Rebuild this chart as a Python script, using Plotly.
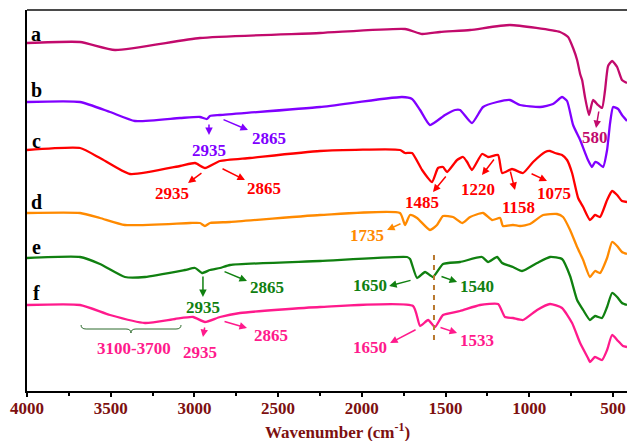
import plotly.graph_objects as go

SERIF = "Liberation Serif, Times New Roman, serif"
AXIS_RED = "#7d1010"

# ---- FTIR spectra (wavenumber in cm-1, stacked transmittance in a.u.) ----
wn_a = [4000, 3683, 3474, 2967, 2250, 1742, 1640, 1533, 1353, 1115, 816, 768, 738,
        714, 696, 684, 667, 643, 619, 589, 565, 547, 529, 505, 475, 446, 416]
t_a = [348, 349, 341, 353, 358, 362, 357, 359, 361, 366, 359, 354, 343,
       331, 317, 311, 294, 276, 291, 286, 283, 301, 325, 330, 324, 311, 308]

wn_b = [4000, 3683, 3504, 3355, 3086, 2967, 2925, 2907, 2847, 2250, 1760, 1700, 1652,
        1593, 1503, 1443, 1413, 1342, 1276, 1192, 1115, 1055, 935, 858, 804, 774,
        738, 696, 649, 625, 607, 589, 559, 535, 517, 499, 469, 446, 416]
t_b = [289, 289, 279, 270, 273, 274, 272, 275, 276, 284, 294, 292, 281,
       266, 276, 281, 281, 268, 284, 289, 291, 286, 284, 287, 294, 290,
       266, 251, 231, 224, 229, 228, 224, 241, 268, 284, 282, 276, 270]

wn_c = [4000, 3683, 3564, 3385, 3086, 2996, 2937, 2847, 2668, 2250, 1772, 1742, 1700,
        1640, 1581, 1545, 1515, 1491, 1431, 1395, 1371, 1342, 1282, 1246, 1186, 1162,
        1103, 1037, 977, 905, 876, 846, 804, 774, 744, 708, 678, 637, 607, 577, 535,
        505, 475, 446, 416]
t_c = [241, 243, 233, 217, 225, 228, 223, 230, 233, 240, 241, 238, 238,
       221, 209, 223, 224, 219, 231, 234, 229, 221, 237, 234, 236, 218,
       222, 218, 229, 239, 240, 238, 236, 231, 218, 193, 184, 171, 176, 174, 191,
       200, 196, 190, 189]

wn_d = [4000, 3683, 3564, 3415, 3026, 2967, 2937, 2907, 2787, 2250, 1772, 1742, 1712,
        1670, 1593, 1551, 1515, 1455, 1401, 1353, 1276, 1222, 1174, 1157, 1097, 1055,
        995, 917, 834, 798, 756, 714, 678, 637, 607, 577, 535, 505, 475, 446, 416]
t_d = [178, 178, 173, 166, 168, 168, 165, 168, 169, 176, 178, 166, 176,
       173, 161, 166, 175, 174, 168, 174, 178, 171, 173, 165, 166, 165,
       167, 176, 177, 174, 161, 144, 131, 114, 120, 118, 133, 149, 145, 139, 137]

wn_e = [4000, 3683, 3564, 3415, 3295, 3056, 2996, 2955, 2907, 2847, 2787, 2250, 1730,
        1712, 1670, 1622, 1575, 1515, 1413, 1282, 1246, 1192, 1162, 1097, 1043, 953,
        876, 804, 756, 714, 678, 637, 607, 565, 535, 505, 475, 446, 416]
t_e = [133, 134, 127, 114, 114, 121, 123, 118, 121, 123, 126, 130, 134,
       132, 113, 119, 114, 127, 129, 134, 129, 134, 128, 124, 120, 128,
       134, 132, 115, 91, 81, 71, 75, 73, 84, 98, 94, 88, 86]

wn_f = [4000, 3683, 3504, 3295, 3116, 3008, 2937, 2847, 2728, 2250, 1694, 1652, 1604,
        1563, 1515, 1413, 1294, 1186, 1145, 1097, 1037, 953, 876, 804, 744, 696,
        649, 637, 607, 565, 535, 505, 469, 440, 416]
t_f = [86, 86, 76, 68, 72, 74, 69, 74, 78, 84, 85, 65, 71,
       64, 76, 80, 86, 87, 74, 73, 71, 81, 87, 83, 68, 48,
       33, 29, 34, 31, 41, 56, 50, 45, 44]

sample_names = ["a", "b", "c", "d", "e", "f"]
sample_colors = ["#c20a6c", "#8000ff", "#ff0000", "#ff8a00", "#108010", "#ff1a8c"]
spectra = [(wn_a, t_a), (wn_b, t_b), (wn_c, t_c), (wn_d, t_d), (wn_e, t_e), (wn_f, t_f)]
name_y = [357, 301, 250, 189, 144, 98]

# Peak call-outs: text, colour, text position, arrow tail, arrow head
callouts = [
    ("2935", "#8000ff", 2913, 241, 2913, 268, 2913, 256),
    ("2865", "#8000ff", 2554, 253, 2835, 272, 2680, 261),
    ("2935", "#ff0000", 3134, 198, 2949, 219, 3038, 208),
    ("2865", "#ff0000", 2584, 203, 2841, 223, 2698, 211),
    ("1485", "#ff0000", 1640, 189, 1491, 216, 1575, 199),
    ("1220", "#ff0000", 1306, 202, 1204, 233, 1282, 216),
    ("1158", "#ff0000", 1067, 184, 1115, 221, 1085, 201),
    ("1075", "#ff0000", 852, 198, 995, 218, 894, 210),
    ("580", "#c20a6c", 607, 254, 583, 281, 601, 263),
    ("1735", "#ff8a00", 1969, 156, 1760, 168, 1849, 161),
    ("2935", "#108010", 2949, 84, 2949, 116, 2949, 94),
    ("2865", "#108010", 2566, 104, 2829, 120, 2686, 110),
    ("1650", "#108010", 1951, 106, 1700, 111, 1837, 105),
    ("1540", "#108010", 1312, 105, 1533, 115, 1431, 109),
    ("1650", "#ff1a8c", 1951, 44, 1670, 62, 1831, 48),
    ("1533", "#ff1a8c", 1312, 51, 1539, 64, 1431, 58),
    ("2935", "#ff1a8c", 2967, 39, 2937, 65, 2949, 54),
    ("2865", "#ff1a8c", 2542, 56, 2829, 70, 2686, 63),
]

fig = go.Figure()
for (wn, t), col in zip(spectra, sample_colors):
    fig.add_trace(go.Scatter(x=wn, y=t, mode="lines",
                             line=dict(color=col, width=2.3, shape="spline", smoothing=0.5),
                             showlegend=False, hoverinfo="skip"))

annotations = []
for name, y in zip(sample_names, name_y):
    annotations.append(dict(x=3946, y=y, xref="x", yref="y", text=name, showarrow=False,
                            font=dict(family=SERIF, size=20, color="black", weight="bold")))

for text, col, tx, ty, ax, ay, hx, hy in callouts:
    annotations.append(dict(x=hx, y=hy, ax=ax, ay=ay, xref="x", yref="y", axref="x", ayref="y",
                            text="", showarrow=True, arrowhead=2, arrowsize=1,
                            arrowwidth=1.5, arrowcolor=col))
    annotations.append(dict(x=tx, y=ty, xref="x", yref="y", text=text, showarrow=False,
                            font=dict(family=SERIF, size=17, color=col, weight="bold")))

annotations.append(dict(x=3361, y=43, xref="x", yref="y", text="3100-3700", showarrow=False,
                        font=dict(family=SERIF, size=17, color="#ff1a8c", weight="bold")))

annotations.append(dict(x=0.517, y=-0.105, xref="paper", yref="paper", yanchor="middle",
                        text="Wavenumber (cm<sup>-1</sup>)", showarrow=False, borderpad=0,
                        font=dict(family=SERIF, size=17, color=AXIS_RED, weight="bold")))

# Curly brace spanning the 3100-3700 cm-1 band
x0, x1, xm = 3677, 3080, 3379
y0, ym, yt = 66, 62, 58
d = 30
brace = (f"M {x0},{y0} Q {x0},{ym} {x0 - d},{ym} L {xm + d},{ym} "
         f"Q {xm},{ym} {xm},{yt} Q {xm},{ym} {xm - d},{ym} L {x1 + d},{ym} "
         f"Q {x1},{ym} {x1},{y0}")
shapes = [
    dict(type="path", path=brace, xref="x", yref="y", line=dict(color="#2d6b2d", width=1)),
    dict(type="line", xref="x", yref="y", x0=1569, x1=1569, y0=51, y1=139,
         line=dict(color="#b8782e", width=2, dash="5px,5px")),
    dict(type="line", xref="paper", yref="paper", x0=0, x1=1, y0=1, y1=1,
         line=dict(color="#4a4a4a", width=2)),
]

fig.update_layout(
    width=627, height=441,
    margin=dict(l=27, r=0, t=10, b=50),
    paper_bgcolor="white", plot_bgcolor="white",
    annotations=annotations, shapes=shapes,
    xaxis=dict(range=[4000, 416], tickvals=[4000, 3500, 3000, 2500, 2000, 1500, 1000, 500],
               ticks="outside", ticklen=4, tickwidth=1.5, tickcolor="black",
               ticklabelstandoff=-3,
               minor=dict(ticks="outside", ticklen=3, tickwidth=1.5, tickcolor="black", dtick=250),
               showline=True, linecolor="black", linewidth=2, showgrid=False, zeroline=False,
               tickfont=dict(family=SERIF, size=17, color=AXIS_RED, weight="bold")),
    yaxis=dict(range=[0, 381], showticklabels=False, ticks="", showgrid=False,
               zeroline=False, showline=True, linecolor="black", linewidth=2),
)

fig.write_html("out.html")
